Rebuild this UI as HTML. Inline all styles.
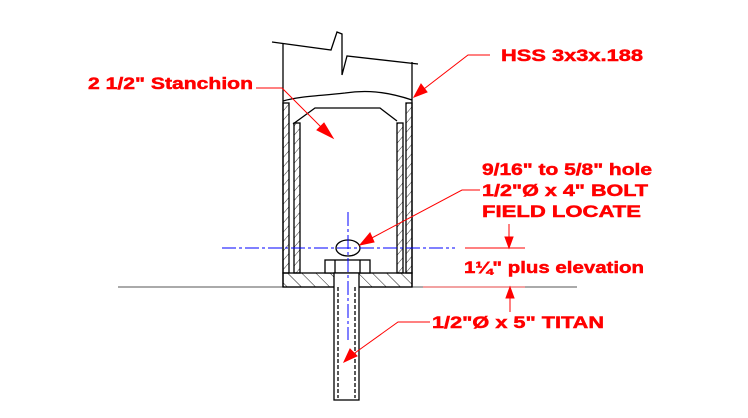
<!DOCTYPE html>
<html><head><meta charset="utf-8"><style>
html,body{margin:0;padding:0;background:#fff;width:748px;height:418px;overflow:hidden}
svg{display:block}
text{font-family:"Liberation Sans",Arial,sans-serif;font-weight:bold;fill:#ff0000;stroke:#ff0000;stroke-width:0.5;font-size:17px}
</style></head><body>
<svg width="748" height="418" viewBox="0 0 748 418" xmlns="http://www.w3.org/2000/svg">
<defs>
<pattern id="h" width="6" height="6" patternUnits="userSpaceOnUse" patternTransform="rotate(40)">
<line x1="0" y1="0" x2="0" y2="6" stroke="#000" stroke-width="0.8"/></pattern>
<pattern id="h2" width="10" height="10" patternUnits="userSpaceOnUse" patternTransform="rotate(-45)">
<line x1="0" y1="0" x2="0" y2="10" stroke="#000" stroke-width="0.9"/></pattern>
</defs>
<line x1="118" y1="287" x2="577" y2="287" stroke="#777" stroke-width="1.2"/>
<line x1="423" y1="287" x2="525" y2="287" stroke="#ff8080" stroke-width="1.2"/>
<g stroke="#000" fill="none" stroke-width="1.3">
<polyline points="272,42 331,50 337,32 342,34 342,75 347,56 418,64"/>
<line x1="283" y1="43" x2="283" y2="287"/>
<line x1="412" y1="62" x2="412" y2="287"/>
<path d="M283,101 C300,96 320,96 345,93 C365,90 385,91 412,100"/>
<rect x="283" y="103" width="6" height="170" fill="url(#h)"/>
<rect x="406" y="103" width="6" height="170" fill="url(#h)"/>
<polyline points="293,124 315,108 380,108 397,121"/>
<rect x="294" y="123" width="6" height="150" fill="url(#h)"/>
<rect x="397" y="123" width="6" height="150" fill="url(#h)"/>
<rect x="283" y="273" width="129" height="14" fill="url(#h2)"/>
<rect x="325" y="260" width="45" height="13" fill="#fff"/>
<line x1="335" y1="260" x2="335" y2="273"/><line x1="360" y1="260" x2="360" y2="273"/>
<rect x="334" y="273" width="25" height="127" fill="#fff"/>
<line x1="338" y1="287" x2="338" y2="398" stroke-dasharray="4,2"/>
<line x1="355" y1="287" x2="355" y2="398" stroke-dasharray="4,2"/>
<ellipse cx="348" cy="248" rx="12" ry="8" fill="#fff"/>
</g>
<g stroke="#0000ff" stroke-width="1" stroke-dasharray="14,3,3,3">
<line x1="222" y1="248" x2="455" y2="248"/>
<line x1="348" y1="212" x2="348" y2="340"/>
</g>
<g stroke="#ff0000" stroke-width="1" fill="#ff0000">
<polyline points="256,88 282,88 326,132" fill="none"/>
<polygon points="333,138 317,130 324,123"/>
<polyline points="490,55 468,55 420,92" fill="none"/>
<polygon points="414,97 421,84 427,92"/>
<polyline points="480,190 462,190 368,240" fill="none"/>
<polygon points="360,245 370,233 374,242"/>
<polyline points="430,322 398,322 352,355" fill="none"/>
<polygon points="344,362 350,349 357,356"/>
<line x1="465" y1="248" x2="525" y2="248"/>
<line x1="509" y1="224" x2="509" y2="240"/>
<polygon points="509,248 505,237 513,237"/>
<line x1="510" y1="296" x2="510" y2="312"/>
<polygon points="510,287 506,298 514,298"/>
</g>
<text x="88" y="89" textLength="165" lengthAdjust="spacingAndGlyphs">2 1/2" Stanchion</text>
<text x="501" y="61" textLength="142" lengthAdjust="spacingAndGlyphs">HSS 3x3x.188</text>
<text x="482" y="175" textLength="170" lengthAdjust="spacingAndGlyphs">9/16" to 5/8" hole</text>
<text x="482" y="196" textLength="166" lengthAdjust="spacingAndGlyphs">1/2"Ø x 4" BOLT</text>
<text x="482" y="217" textLength="159" lengthAdjust="spacingAndGlyphs">FIELD LOCATE</text>
<text x="464" y="273" textLength="180" lengthAdjust="spacingAndGlyphs">1¼" plus elevation</text>
<text x="432" y="328" textLength="172" lengthAdjust="spacingAndGlyphs">1/2"Ø x 5" TITAN</text>
</svg>
</body></html>
